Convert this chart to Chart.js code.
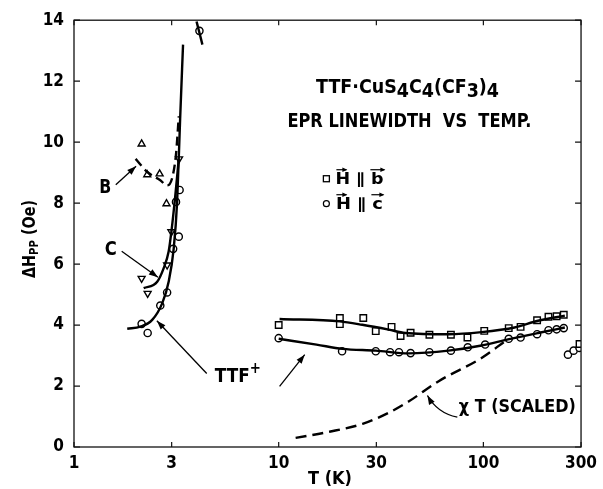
<!DOCTYPE html>
<html><head><meta charset="utf-8">
<script src="https://cdn.jsdelivr.net/npm/chart.js@4/dist/chart.umd.min.js"></script>
<style>html,body{margin:0;padding:0;background:#fff}#wrap{width:603px;height:489px;position:relative}</style>
</head><body><div id="wrap"><canvas id="c"></canvas></div>
<script>
// ---- tick labels ----
const xTicks = [1, 3, 10, 30, 100, 300];
const yTicks = [0, 2, 4, 6, 8, 10, 12, 14];

// ---- H || b (squares) ----
const bT = [10.0, 19.9, 19.9, 25.9, 29.8, 35.6, 39.4, 44.1, 54.5, 69.4, 83.6, 101, 133, 152, 183, 208, 228, 247, 295];
const bY = [4.00, 4.23, 4.03, 4.23, 3.80, 3.94, 3.64, 3.75, 3.68, 3.68, 3.59, 3.81, 3.90, 3.94, 4.16, 4.27, 4.29, 4.34, 3.38];

// ---- H || c (circles), high T ----
const cT = [10, 20.4, 29.8, 35.0, 38.7, 44.1, 54.5, 69.4, 83.9, 102, 133, 152, 183, 208, 228, 247, 259, 276, 295];
const cY = [3.57, 3.14, 3.14, 3.11, 3.11, 3.08, 3.11, 3.16, 3.27, 3.36, 3.55, 3.59, 3.70, 3.83, 3.86, 3.90, 3.03, 3.16, 3.25];

// ---- circles, low T (TTF+) ----
const lowCT = [2.14, 2.29, 2.64, 2.85, 3.05, 3.25, 3.15, 3.28, 4.10];
const lowCY = [4.04, 3.74, 4.64, 5.07, 6.50, 6.90, 8.04, 8.43, 13.65];

// ---- down triangles (C) ----
const triCT = [2.14, 2.29, 2.85, 2.99, 3.26];
const triCY = [5.53, 5.04, 5.97, 7.06, 9.45];

// ---- up triangles (B) ----
const triBT = [2.14, 2.28, 2.62, 2.83];
const triBY = [9.94, 8.93, 8.96, 7.98];

// ---- fitted curves ----
const fitBT = [10.1, 19.9, 25.6, 34.5, 41.5, 67.5, 98, 142, 185, 250];
const fitBY = [4.20, 4.12, 4.01, 3.85, 3.74, 3.70, 3.77, 3.92, 4.14, 4.31];
const fitCT = [10, 15.3, 20.5, 29.8, 43.3, 67.5, 98, 132, 185, 250];
const fitCY = [3.55, 3.36, 3.22, 3.16, 3.07, 3.16, 3.33, 3.53, 3.74, 3.92];
const chiT = [12.1, 17.7, 25.7, 34.4, 43.3, 60.5, 98, 127];
const chiY = [0.30, 0.50, 0.76, 1.12, 1.50, 2.16, 2.92, 3.46];
const ttfT = [1.82, 2.11, 2.41, 2.70, 2.90, 3.07, 3.19, 3.30, 3.41];
const ttfY = [3.88, 3.95, 4.17, 4.72, 5.42, 6.51, 8.04, 10.76, 13.2];
const curveCT = [2.19, 2.55, 2.74, 2.90, 2.99, 3.12, 3.25];
const curveCY = [5.21, 5.42, 5.86, 6.41, 7.06, 8.20, 9.45];
const curveBT = [2.00, 2.28, 2.64, 2.85, 3.01, 3.15, 3.25];
const curveBY = [9.45, 9.02, 8.75, 8.58, 8.80, 9.60, 10.85];
const segT = [3.97, 4.24];
const segY = [13.96, 13.2];

const zip = (a, b) => a.map((v, i) => ({x: v, y: b[i]}));
const FONT = "'DejaVu Sans Condensed','Liberation Sans Narrow','DejaVu Sans',sans-serif";
const W = 'bold ';

function pts(T, Y, style, extra) {
  return Object.assign({data: zip(T, Y), showLine: false, pointStyle: style, pointRadius: 3.6,
    pointBorderColor: '#000', pointBackgroundColor: '#fff', pointBorderWidth: 1.4, borderColor: '#000'}, extra || {});
}
function line(T, Y, dash, extra) {
  return Object.assign({data: zip(T, Y), showLine: true, pointRadius: 0, borderColor: '#000', borderWidth: 2.4,
    borderDash: dash || [], tension: 0.4, cubicInterpolationMode: 'monotone', fill: false}, extra || {});
}

// annotation positions (data coordinates)
const notes = {
  title1: [42.6, 11.79], title2: [43.5, 10.65],
  legSq: [17.1, 8.80], legCi: [17.1, 7.98],
  B: [1.42, 8.5], Barr: [[1.60, 8.6], [2.01, 9.21]],
  C: [1.51, 6.48], Carr: [[1.71, 6.42], [2.57, 5.57]],
  TTF: [6.31, 2.28], TTFarr1: [[4.45, 2.41], [2.54, 4.14]], TTFarr2: [[10.1, 1.99], [13.4, 3.03]],
  CHI: [146.5, 1.30], CHIarr: [[74.6, 0.98], [53.3, 1.69]]
};

function runsWidth(ctx, runs, size) {
  let w = 0;
  for (const r of runs) { ctx.font = W + (r[2] || size) + 'px ' + FONT; w += ctx.measureText(r[0]).width; }
  return w;
}
// runs: [text, dy, size]; draws centered at (cx, cy) scaled to width tw
function drawRuns(ctx, runs, cx, cy, size, tw) {
  const w = runsWidth(ctx, runs, size);
  const sx = tw ? tw / w : 1;
  ctx.save();
  ctx.translate(cx - w * sx / 2, cy);
  ctx.scale(sx, 1);
  ctx.textBaseline = 'middle'; ctx.textAlign = 'left'; ctx.fillStyle = '#000';
  let x = 0;
  for (const r of runs) {
    ctx.font = W + (r[2] || size) + 'px ' + FONT;
    ctx.fillText(r[0], x, r[1] || 0);
    x += ctx.measureText(r[0]).width;
  }
  ctx.restore();
}
function arrow(ctx, x1, y1, x2, y2, cpx, cpy) {
  ctx.save();
  ctx.strokeStyle = '#000'; ctx.fillStyle = '#000'; ctx.lineWidth = 1.3;
  ctx.beginPath(); ctx.moveTo(x1, y1);
  let ax = x1, ay = y1;
  if (cpx !== undefined) { ctx.quadraticCurveTo(cpx, cpy, x2, y2); ax = cpx; ay = cpy; }
  else ctx.lineTo(x2, y2);
  ctx.stroke();
  const a = Math.atan2(y2 - ay, x2 - ax), L = 9, Wd = 3.2;
  ctx.beginPath();
  ctx.moveTo(x2, y2);
  ctx.lineTo(x2 - L * Math.cos(a) + Wd * Math.sin(a), y2 - L * Math.sin(a) - Wd * Math.cos(a));
  ctx.lineTo(x2 - L * Math.cos(a) - Wd * Math.sin(a), y2 - L * Math.sin(a) + Wd * Math.cos(a));
  ctx.closePath(); ctx.fill();
  ctx.restore();
}
function vecArrow(ctx, x1, x2, y) {
  ctx.beginPath(); ctx.moveTo(x1, y); ctx.lineTo(x2, y); ctx.stroke();
  ctx.beginPath(); ctx.moveTo(x2 + 1, y); ctx.lineTo(x2 - 4, y - 2.2); ctx.lineTo(x2 - 4, y + 2.2); ctx.closePath(); ctx.fill();
}

const decor = {
  id: 'decor',
  beforeDraw(chart) {
    const c = chart.ctx; c.save(); c.fillStyle = '#fff'; c.fillRect(0, 0, chart.width, chart.height); c.restore();
  },
  afterDraw(chart) {
    const ctx = chart.ctx, xs = chart.scales.x, ys = chart.scales.y, a = chart.chartArea;
    const P = (p) => [xs.getPixelForValue(p[0]), ys.getPixelForValue(p[1])];
    ctx.save();
    // frame
    ctx.strokeStyle = '#111'; ctx.lineWidth = 1.3;
    ctx.strokeRect(a.left, a.top, a.right - a.left, a.bottom - a.top);
    // inward ticks
    ctx.lineWidth = 1.2;
    for (const v of yTicks) {
      const y = ys.getPixelForValue(v);
      ctx.beginPath(); ctx.moveTo(a.left, y); ctx.lineTo(a.left + 6, y);
      ctx.moveTo(a.right, y); ctx.lineTo(a.right - 6, y); ctx.stroke();
    }
    for (const v of xTicks) {
      const x = xs.getPixelForValue(v);
      ctx.beginPath(); ctx.moveTo(x, a.bottom); ctx.lineTo(x, a.bottom - 5);
      ctx.moveTo(x, a.top); ctx.lineTo(x, a.top + 5); ctx.stroke();
    }
    // axis titles
    ctx.save(); ctx.translate(31, 239); ctx.rotate(-Math.PI / 2);
    drawRuns(ctx, [['\u0394H', 0, 17], ['PP', 4, 12], [' (Oe)', 0, 17]], 0, 0, 17, 78);
    ctx.restore();
    drawRuns(ctx, [['T (K)', 0, 17]], 330, 480, 17, 44);
    // title
    let p = P(notes.title1);
    drawRuns(ctx, [['TTF\u00B7CuS', 0], ['4', 4], ['C', 0], ['4', 4], ['(CF', 0], ['3', 4], [')', 0], ['4', 4]], p[0], p[1], 19, 183);
    p = P(notes.title2);
    drawRuns(ctx, [['EPR LINEWIDTH  VS  TEMP.', 0]], p[0], p[1], 19, 244);
    // legend
    let q = P(notes.legSq);
    ctx.strokeStyle = '#000'; ctx.fillStyle = '#fff'; ctx.lineWidth = 1.3;
    ctx.strokeRect(q[0] - 3, q[1] - 3, 6, 6);
    drawRuns(ctx, [['H \u2225 b', 0]], q[0] + 33, q[1] + 1, 15, 48);
    ctx.fillStyle = '#000'; ctx.lineWidth = 1.2;
    vecArrow(ctx, q[0] + 10, q[0] + 20, q[1] - 9);
    vecArrow(ctx, q[0] + 44, q[0] + 58, q[1] - 9);
    q = P(notes.legCi);
    ctx.beginPath(); ctx.arc(q[0], q[1], 3, 0, Math.PI * 2); ctx.fillStyle = '#fff'; ctx.fill(); ctx.stroke();
    drawRuns(ctx, [['H \u2225 c', 0]], q[0] + 33, q[1] + 1, 15, 47);
    ctx.fillStyle = '#000';
    vecArrow(ctx, q[0] + 10, q[0] + 20, q[1] - 9);
    vecArrow(ctx, q[0] + 45, q[0] + 57, q[1] - 9);
    // labels
    p = P(notes.B); drawRuns(ctx, [['B', 0]], p[0], p[1], 20, 12);
    p = P(notes.C); drawRuns(ctx, [['C', 0]], p[0], p[1], 20, 12);
    p = P(notes.TTF); drawRuns(ctx, [['TTF', 0, 19], ['+', -8, 15]], p[0], p[1], 19, 46);
    p = P(notes.CHI); drawRuns(ctx, [['\u03C7 T (SCALED)', 0]], p[0], p[1], 17, 117);
    // arrows
    let s = P(notes.Barr[0]), e = P(notes.Barr[1]); arrow(ctx, s[0], s[1], e[0], e[1]);
    s = P(notes.Carr[0]); e = P(notes.Carr[1]); arrow(ctx, s[0], s[1], e[0], e[1]);
    s = P(notes.TTFarr1[0]); e = P(notes.TTFarr1[1]); arrow(ctx, s[0], s[1], e[0], e[1]);
    s = P(notes.TTFarr2[0]); e = P(notes.TTFarr2[1]); arrow(ctx, s[0], s[1], e[0], e[1]);
    s = P(notes.CHIarr[0]); e = P(notes.CHIarr[1]); arrow(ctx, s[0], s[1], e[0], e[1], s[0] - 20, s[1] - 4);
    ctx.restore();
  }
};

new Chart(document.getElementById('c'), {
  type: 'scatter',
  data: {
    datasets: [
      line(fitBT, fitBY),
      line(fitCT, fitCY),
      line(chiT, chiY, [11, 6]),
      line(ttfT, ttfY, [], {tension: 0.3}),
      line(curveCT, curveCY, [], {tension: 0.3}),
      line(curveBT, curveBY, [9, 5], {tension: 0.3}),
      line(segT, segY),
      pts(bT, bY, 'rect', {pointRadius: 4.6}),
      pts(cT, cY, 'circle'),
      pts(lowCT, lowCY, 'circle'),
      pts(triCT, triCY, 'triangle', {pointRotation: 180, pointRadius: 4}),
      pts(triBT, triBY, 'triangle', {pointRadius: 4})
    ]
  },
  options: {
    responsive: true, maintainAspectRatio: false, animation: false,
    layout: {padding: {top: 17, right: 21, left: 0, bottom: 0}},
    plugins: {legend: {display: false}, tooltip: {enabled: false}},
    scales: {
      x: {
        type: 'logarithmic', min: 1, max: 300,
        afterBuildTicks: (s) => { s.ticks = xTicks.map(v => ({value: v})); },
        afterFit: (s) => { s.height = 42; },
        grid: {display: false, drawTicks: false}, border: {display: false},
        ticks: {callback: (v) => String(v), color: '#000', font: {family: FONT, size: 17, weight: 'bold'}, padding: 6, maxRotation: 0, autoSkip: false}
      },
      y: {
        min: 0, max: 14,
        afterBuildTicks: (s) => { s.ticks = yTicks.map(v => ({value: v})); },
        afterFit: (s) => { s.width = 74; },
        grid: {display: false, drawTicks: false}, border: {display: false},
        ticks: {color: '#000', font: {family: FONT, size: 17, weight: 'bold'}, padding: 10}
      }
    }
  },
  plugins: [decor]
});
</script></body></html>
